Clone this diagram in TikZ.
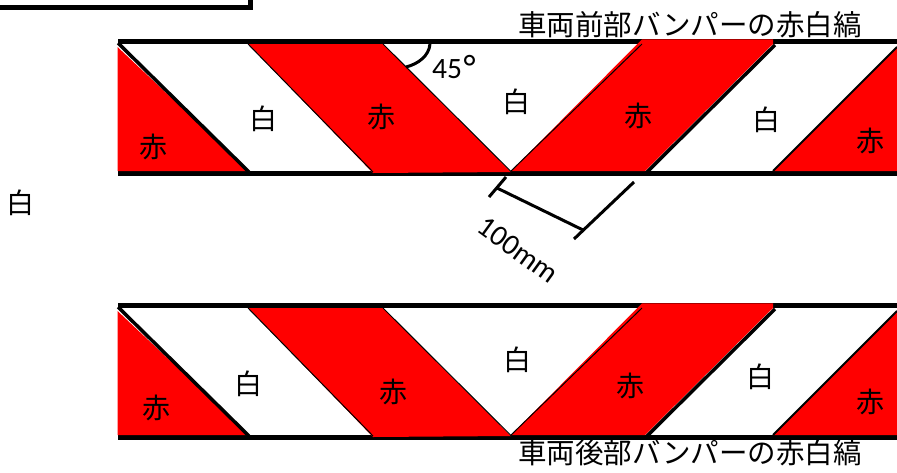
\documentclass[tikz,border=0pt]{standalone}
\usepackage{fontspec}
\setmainfont{Carlito}
\newfontfamily\cjk{Noto Sans CJK JP}
\definecolor{stripered}{RGB}{255,0,0}
\begin{document}
\begin{tikzpicture}[x=1pt,y=-1pt,
  edgeline/.style={line width=5pt},
  redpart/.style={fill=stripered,draw=none},
  thinedge/.style={line width=1pt},
  thickedge/.style={line width=3.5pt},
  dimline/.style={line width=3pt},
  lbl/.style={inner sep=0pt,font=\cjk\fontsize{28}{28}\selectfont},
  titlelbl/.style={inner sep=0pt,font=\cjk\fontsize{28.5}{28.5}\selectfont},
  numlbl/.style={inner sep=0pt,font=\fontsize{29.5}{29.5}\selectfont}]
\useasboundingbox (0,0) rectangle (897,472);
% partial box at top left
\draw[edgeline] (0,7.5) -- (250,7.5) -- (250,0);
% two bands
\foreach \s in {0,264}{
  \begin{scope}[shift={(0,\s)}]
    \draw[edgeline] (118,173.3) -- (897,173.3);
    \fill[redpart] (117.5,47) -- (117.5,171) -- (249,171) -- cycle;
    \fill[redpart] (248,44) -- (383,44) -- (511,172) -- (373,173) -- cycle;
    \draw[thickedge] (118,43) -- (249,172);
    \draw[thinedge] (248,44) -- (373,172);
    \draw[thinedge] (383,44) -- (511,171.5);
    \draw[edgeline] (118,41.8) -- (897,41.8);
    \fill[redpart] (642,39.3) -- (773,39.3) -- (773,44) -- (645,171) -- (511,171) -- cycle;
    \draw[thinedge] (642,44) -- (511,171);
    \draw[thickedge] (775,45) -- (647,172);
    \fill[redpart] (773,171) -- (897,47) -- (897,171) -- cycle;
    \draw[line width=1.8pt] (773,171) -- (897,47);
  \end{scope}
}
% angle mark
\draw[line width=3pt] (430,44) .. controls (429,56) and (418,64) .. (406,67);
\node[numlbl,anchor=base west] (ang) at (432,78) {45\kern1.5pt\raisebox{-1pt}{\scalebox{1.2}{°}}};
% dimension
\coordinate (d1) at (497,188);
\coordinate (d2) at (583,230);
\coordinate (ta1) at (506,177);
\coordinate (ta2) at (489,197);
\coordinate (tb1) at (634,182);
\coordinate (tb2) at (574,239);
\draw[dimline] (d1) -- (d2);
\draw[dimline] (ta1) -- (ta2);
\draw[dimline] (tb1) -- (tb2);
\node[numlbl,rotate=-36] (dim) at (518,250) {100mm};
% titles
\node[titlelbl] (fronttitle) at (690,25) {車両前部バンパーの赤白縞};
\node[titlelbl] (reartitle) at (690,453) {車両後部バンパーの赤白縞};
% left label
\node[lbl] (side) at (20,203) {白};
% top band labels
\node[lbl] (t1) at (153,147) {赤};
\node[lbl] (t2) at (263,119) {白};
\node[lbl] (t3) at (381,117) {赤};
\node[lbl] (t4) at (516,102) {白};
\node[lbl] (t5) at (638,116) {赤};
\node[lbl] (t6) at (766,120) {白};
\node[lbl] (t7) at (870,141) {赤};
% bottom band labels
\node[lbl] (b1) at (156,408) {赤};
\node[lbl] (b2) at (248,384) {白};
\node[lbl] (b3) at (393,392) {赤};
\node[lbl] (b4) at (517,360) {白};
\node[lbl] (b5) at (630,386) {赤};
\node[lbl] (b6) at (760,377) {白};
\node[lbl] (b7) at (870,402) {赤};
\end{tikzpicture}
\end{document}
